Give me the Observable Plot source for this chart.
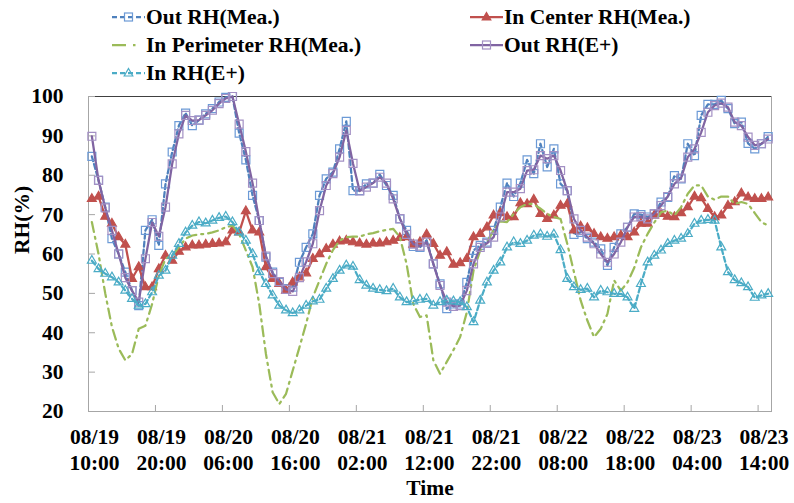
<!DOCTYPE html>
<html><head><meta charset="utf-8">
<script src="https://cdn.jsdelivr.net/npm/d3@7"></script>
<script src="https://cdn.jsdelivr.net/npm/@observablehq/plot@0.6"></script>
<style>
body{margin:0;background:#fff;}
#wrap{position:relative;width:794px;height:503px;overflow:hidden;font-family:"Liberation Serif","Times New Roman",serif;font-weight:bold;color:#000;}
#legend{position:relative;width:794px;height:86px;}
.item{position:absolute;display:flex;align-items:center;font-size:21.5px;height:28px;white-space:nowrap;}
.item svg{margin-right:1px;}
#chart svg{display:block;}
</style></head>
<body><div id="wrap"><div id="legend"></div><div id="chart"></div></div>
<script>
// ---- data (hourly, starting 08/19 10:00) ----
const seriesNames = ["Out RH(Mea.)", "In Center RH(Mea.)", "In Perimeter RH(Mea.)", "Out RH(E+)", "In RH(E+)"];
const outMea = [84.8,78.7,71.9,63.9,60,55.4,50.7,46.9,66,68.7,
 62.2,77.8,85.9,92.6,95.8,92.6,94,95.6,96.9,98.6,
 99.8,100,90.7,83.9,74.9,68.5,59.2,55.4,52.8,51.2,
 51.6,57.9,61.7,65.1,74.9,79.1,80.8,86.7,93.7,76.1,
 76.1,77.8,78,80.2,77.4,74.9,68.9,66,61.9,61.7,
 63.5,57.5,52.4,46.1,47.3,47.3,52.8,60.9,62.2,63,
 66,71.9,78,74.6,78,83.9,80.4,88,82.1,86.7,
 77.8,76.1,65,65.5,63.9,63,61.3,57.1,61.7,65.1,
 66.8,70.2,70,69.4,70.2,73.2,74.4,79.9,79.1,88,
 85,95.2,98,98,99,96.9,93.1,93.5,88.1,86.7,
 88,89.8];
const inCenterMea = [74,74.6,69.5,67.7,64.3,62.4,53.7,56.7,51.6,51.6,
 56.2,59.6,58.3,60.6,61.7,62.2,62.2,62.4,62.6,62.7,
 63,66,65.5,70.9,66,65.5,56.7,53.7,52.4,50.7,
 52.8,54.1,55.1,58.8,60,61.3,62.4,63.2,63.4,63,
 62.7,62.4,62.7,62.7,63,63.4,64.1,64.3,62.4,63,
 65,62.6,59.6,60.5,57.3,57.7,58.8,64.3,65.1,66.8,
 69.8,70.4,69.4,69.4,72.9,72.7,73.8,70.2,68.9,69.8,
 72.3,72.7,66,67,66.6,65.1,64.3,63.9,64.3,64.7,
 64.3,65.5,67.7,67.7,69.8,70.2,69.5,69.4,70.4,71.9,
 74.6,74.2,71.5,69.4,69.8,72.3,73.2,75.4,74.4,74,
 74,74.4];
const inPerimeterMea = [68.1,60,50,41.5,36,33,34.6,41,41.8,47.3,
 54.5,58.8,59.6,61.7,63.9,64.7,65,65.1,65.5,66,
 66.8,67.2,65.1,60.9,56.7,47.3,34.6,24.9,21.9,24.5,
 30.4,36.3,42.3,49,53.3,57.5,61,63.4,64.3,64.4,
 64.4,65,65.3,65.8,66.1,66.4,64.3,57.5,47.3,44,
 44.4,33,29.6,32.6,35.6,38.9,45.2,55.8,60.9,63,
 66,68.3,68.1,70.2,71.9,72.7,72.7,71.5,70.2,69.4,
 68.9,62.6,55.4,48.2,43.1,38.9,41,44.8,53.3,50.7,
 52.8,56.5,61.7,65.1,68,70.6,71,69.8,71.9,75.3,
 77.4,77.4,74.6,73.8,74.6,74.6,72.7,73.2,72.7,70.4,
 68.1,67.2];
const outEp = [89.9,78.7,71.7,66,60,54,50.7,47.8,58.8,68,
 64.5,71.9,82.9,90.5,95.2,93.9,94,95.2,96.5,98.2,
 99.5,100,93,86,78,68.5,59.5,55,53,51,
 50.5,54,58,62.6,71,77.4,80.4,84.6,91.4,83,
 76,77,78,79.5,78,74,69,65,62.5,62,
 63,57.5,52,47.8,46.7,46.9,50.7,57.5,61.7,62.7,
 64.3,69.4,75.7,75.7,76.6,81.2,81.4,85,84.2,85,
 81.2,76.1,68.9,66,64.3,62.6,60,57.9,60,63,
 66.8,69.4,69.5,68.9,70.2,72.3,74.6,77.8,79.3,84.6,
 86.7,90.9,96,97.7,98.3,97.3,93.5,92.6,89.7,87.6,
 88,89.2];
const inEp = [58.3,56.2,55,54.1,52.8,50.7,48.6,46.9,47.3,50.3,
 54.5,55.8,59.6,62.6,65.5,67.2,68.1,67.8,68.5,69.2,
 69.5,68.1,65.5,63.4,60,55.4,52.4,49.5,46.9,45.7,
 45,45.7,46.9,48,48.4,51.2,53.7,55.8,57.1,56.8,
 53.4,52,51.2,50.9,50.6,51.2,49,47.8,48,48.4,
 48.6,46.9,47.8,48.2,48,47.8,46.5,42.7,48.2,52.8,
 55.8,57.9,61.7,63,62.6,63.4,64.7,65,64.4,65,
 61,53.7,51.6,50.9,51.2,49,50.7,50.3,49.9,49.9,
 49,46.1,52.4,57.9,59.6,60.9,62.6,63.4,63.9,65.1,
 67.7,68.5,68.7,68.5,61.7,55.4,53.4,52.6,51.6,48.9,
 49.5,49.9];
const tickDates = ["08/19","08/19","08/20","08/20","08/21","08/21","08/21","08/22","08/22","08/23","08/23"];
const tickTimes = ["10:00","20:00","06:00","16:00","02:00","12:00","22:00","08:00","18:00","04:00","14:00"];
const tickHours = [0,10,20,30,40,50,60,70,80,90,100];
const yTicks = [20,30,40,50,60,70,80,90,100];
const nHours = 102;

// ---- styles ----
const styles = [
  {values: outMea, stroke:"#4F81BD", dash:"5,3", symbol:"square", r:4.5, mstroke:"#6C9AD6", mfill:"none"},
  {values: inCenterMea, stroke:"#C0504D", dash:null, symbol:"triangle", r:3.3, mstroke:"#C0504D", mfill:"#C0504D"},
  {values: inPerimeterMea, stroke:"#9BBB59", dash:"10,5,2,5", symbol:null},
  {values: outEp, stroke:"#8064A2", dash:null, symbol:"square", r:4.5, mstroke:"#A390C4", mfill:"none"},
  {values: inEp, stroke:"#4BACC6", dash:"5,3", symbol:"triangle", r:3.3, mstroke:"#4BACC6", mfill:"none"}
];

const rows = styles.map((s, k) => s.values.map((v, i) => ({series: seriesNames[k], x: i + 0.5, v})));

const marks = [
  Plot.frame({stroke:"#a6a6a6"}),
  Plot.ruleY([100], {stroke:"#404040"}),
  Plot.axisY({ticks: yTicks, tickSize: 0, tickPadding: 25, label: null}),
  Plot.axisY({ticks: yTicks, tickSize: -7, tickFormat: () => "", label: null, stroke:"#a6a6a6"}),
  Plot.axisX({ticks: tickHours, tickSize: 0, tickPadding: 14.5, dx: 6, lineHeight: 1.2,
    tickFormat: h => { const j = tickHours.indexOf(h); return tickDates[j] + "\n" + tickTimes[j]; }, label: null}),
  Plot.axisX({ticks: tickHours, tickSize: -6, tickFormat: () => "", label: null, stroke:"#a6a6a6"})
];
styles.forEach((s, k) => {
  marks.push(Plot.line(rows[k], {x:"x", y:"v", stroke:s.stroke, strokeWidth:2.25, strokeDasharray:s.dash, strokeLinejoin:"round"}));
  if (s.symbol) marks.push(Plot.dot(rows[k], {x:"x", y:"v", symbol:s.symbol, r:s.r, stroke:s.mstroke, fill:s.mfill, strokeWidth:1.2}));
});
marks.push(Plot.text(["RH(%)"], {text: d => d, frameAnchor:"left", dx:-66, rotate:-90}));
marks.push(Plot.text(["Time"], {text: d => d, frameAnchor:"bottom", dy:77, lineAnchor:"middle"}));

const chart = Plot.plot({
  width: 794, height: 417,
  marginLeft: 88, marginRight: 23, marginTop: 10, marginBottom: 92,
  x: {domain: [0, nHours]},
  y: {domain: [20, 100]},
  style: {fontFamily:'"Liberation Serif","Times New Roman",serif', fontWeight:"bold", fontSize:"21.5px", color:"#000", background:"#fff", overflow:"visible"},
  marks
});
document.getElementById("chart").appendChild(chart);

// ---- legend ----
const legendPos = [[112,17],[470,17],[112,45],[470,45],[112,73]];
const legend = document.getElementById("legend");
styles.forEach((s, k) => {
  const div = document.createElement("div");
  div.className = "item";
  div.style.left = legendPos[k][0] + "px";
  div.style.top = (legendPos[k][1] - 14) + "px";
  let marker = "";
  if (s.symbol === "square") marker = `<rect x="12.5" y="4" width="8" height="8" fill="${s.mfill}" stroke="${s.mstroke}" stroke-width="1.2"/>`;
  if (s.symbol === "triangle") marker = `<path d="M16.5,3.5 L20.8,11 L12.2,11 Z" fill="${s.mfill}" stroke="${s.mstroke}" stroke-width="1.2"/>`;
  const dash = k === 2 ? "14,7,2.5,30" : (s.dash || "none");
  div.innerHTML = `<svg width="33" height="16"><line x1="0" y1="8" x2="33" y2="8" stroke="${s.stroke}" stroke-width="2.25" stroke-dasharray="${dash}"/>${marker}</svg><span>${seriesNames[k]}</span>`;
  legend.appendChild(div);
});
</script></body></html>
